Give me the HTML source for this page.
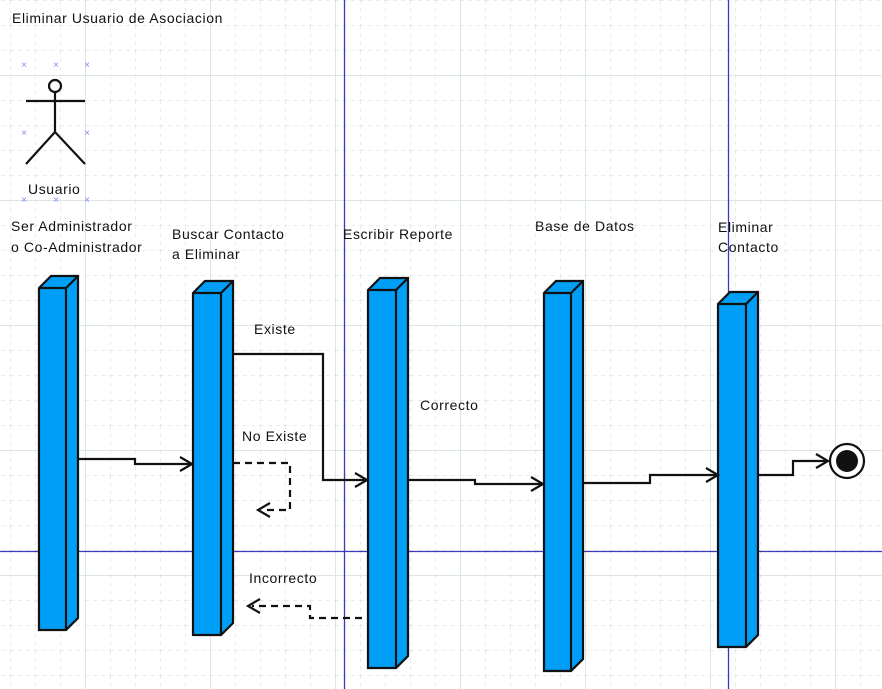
<!DOCTYPE html>
<html><head><meta charset="utf-8"><style>
html,body{margin:0;padding:0;background:#fff;width:882px;height:689px;overflow:hidden}
text{font-family:"Liberation Sans",sans-serif;font-size:14px;fill:#111;letter-spacing:0.6px}
.x{font-size:10px;fill:#8888ee;text-anchor:middle;letter-spacing:0}
</style></head><body>
<svg id="s" width="882" height="689" xmlns="http://www.w3.org/2000/svg">
<defs>
<pattern id="gd" x="10" y="0" width="25" height="25" patternUnits="userSpaceOnUse">
<path d="M0 0V25M0 0H25" stroke="#dfe7e7" stroke-width="1.5" stroke-dasharray="4 4" fill="none"/>
</pattern>
<pattern id="gs" x="85" y="75" width="125" height="125" patternUnits="userSpaceOnUse">
<path d="M0 0V125M0 0H125" stroke="#dde6e6" stroke-width="2" fill="none"/>
</pattern>
</defs>
<rect width="882" height="689" fill="url(#gd)"/>
<rect width="882" height="689" fill="url(#gs)"/>
<g stroke="#3a3ab8" stroke-width="1.3">
<line x1="344.5" y1="0" x2="344.5" y2="689"/>
<line x1="728.5" y1="0" x2="728.5" y2="689"/>
<line x1="0" y1="551.5" x2="882" y2="551.5"/>
</g>
<g id="boxes"></g>
<text x="12" y="23">Eliminar Usuario de Asociacion</text>
<g stroke="#111" stroke-width="2.2" fill="none">
<circle cx="55" cy="86" r="6"/>
<line x1="55" y1="92" x2="55" y2="132"/>
<line x1="26" y1="101" x2="85" y2="101"/>
<line x1="55" y1="132" x2="26" y2="164"/>
<line x1="55" y1="132" x2="85" y2="164"/>
</g>
<text class="x" x="24" y="68">×</text><text class="x" x="56" y="68">×</text><text class="x" x="87" y="68">×</text>
<text class="x" x="24" y="136">×</text><text class="x" x="87" y="136">×</text>
<text class="x" x="24" y="203">×</text><text class="x" x="56" y="203">×</text><text class="x" x="87" y="203">×</text>
<text x="28" y="194">Usuario</text>
<text x="11" y="231">Ser Administrador</text>
<text x="11" y="252">o Co-Administrador</text>
<text x="172" y="239">Buscar Contacto</text>
<text x="172" y="259">a Eliminar</text>
<text x="343" y="239">Escribir Reporte</text>
<text x="535" y="231">Base de Datos</text>
<text x="718" y="232">Eliminar</text>
<text x="718" y="252">Contacto</text>
<text x="254" y="334">Existe</text>
<text x="242" y="441">No Existe</text>
<text x="420" y="410">Correcto</text>
<text x="249" y="583">Incorrecto</text>
<g stroke="#111" stroke-width="2.2" fill="none">
<polyline points="78,459 135,459 135,464 192,464"/>
<polyline points="180,457 192,464 180,471"/>
<polyline points="233,354 323,354 323,480 367,480"/>
<polyline points="355,473 367,480 355,487"/>
<polyline points="408,480 475,480 475,484 543,484"/>
<polyline points="531,477 543,484 531,491"/>
<polyline points="583,483 650,483 650,475 718,475"/>
<polyline points="706,468 718,475 706,482"/>
<polyline points="758,475 793,475 793,461 828,461"/>
<polyline points="816,454 828,461 816,468"/>
<g stroke-dasharray="7 5">
<polyline points="233,463 290,463 290,510 262,510"/>
<polyline points="362,618 310,618 310,606 252,606"/>
</g>
<polyline points="270,503 258,510 270,517"/>
<polyline points="260,599 248,606 260,613"/>
</g>
<circle cx="847" cy="461" r="17" fill="#fff" stroke="#111" stroke-width="2.2"/>
<circle cx="847" cy="461" r="11" fill="#111"/>
</svg>
<script>
var B=[[39,66,78,288,630],[193,221,233,293,635],[368,396,408,290,668],[544,571,583,293,671],[718,746,758,304,647]];
var g=document.getElementById('boxes'),h='';
B.forEach(function(b){var l=b[0],i=b[1],r=b[2],t=b[3],bt=b[4],d=r-i;
h+='<polygon points="'+l+','+t+' '+(l+d)+','+(t-d)+' '+r+','+(t-d)+' '+r+','+(bt-d)+' '+i+','+bt+' '+l+','+bt+'" fill="#009ff7" stroke="#111" stroke-width="2.2"/>';
h+='<polyline points="'+l+','+t+' '+i+','+t+' '+r+','+(t-d)+'" fill="none" stroke="#111" stroke-width="2.2"/>';
h+='<line x1="'+i+'" y1="'+t+'" x2="'+i+'" y2="'+bt+'" stroke="#111" stroke-width="2.2"/>';
});
g.innerHTML=h;
</script>
</body></html>
